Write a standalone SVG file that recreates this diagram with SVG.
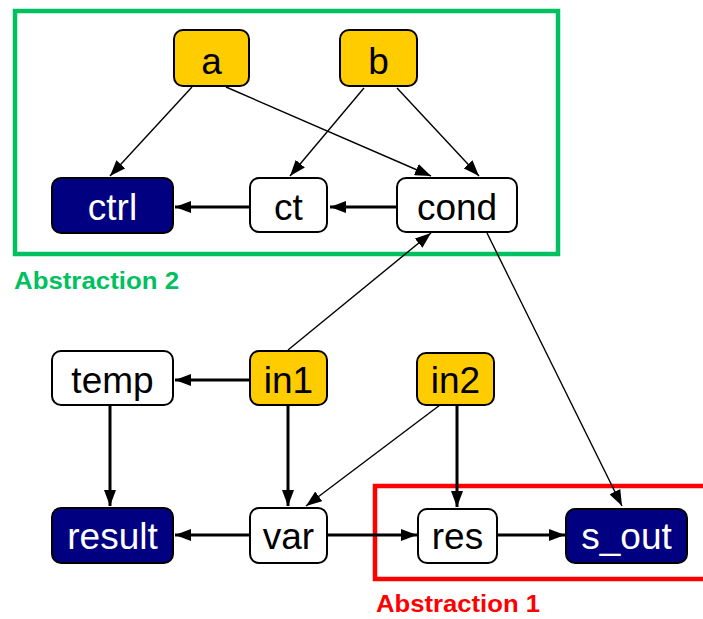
<svg xmlns="http://www.w3.org/2000/svg" width="703" height="619" viewBox="0 0 703 619">
<defs>
<marker id="ah" viewBox="0 0 16 12" refX="16" refY="6" markerWidth="16" markerHeight="12" markerUnits="userSpaceOnUse" orient="auto"><path d="M0,0 L16,6 L0,12 z" fill="#000"/></marker>
<style>
.n rect{stroke:#000;stroke-width:2}
.in rect{fill:#FFCC00}
.out rect{fill:#000080}
.mid rect{fill:#fff}
.n text{font-family:"Liberation Sans",Arial,sans-serif;font-size:37px;text-anchor:middle;dominant-baseline:central}
.out text{fill:#fff}
.mid text,.in text{fill:#000}
.thin{stroke:#000;stroke-width:1.4;fill:none;marker-end:url(#ah)}
.thick{stroke:#000;stroke-width:3;fill:none;marker-end:url(#ah)}
.lbl{font-family:"Liberation Sans",Arial,sans-serif;font-weight:bold;font-size:24px}
</style>
</defs>
<rect width="703" height="619" fill="#fff"/>
<g id="abstraction2">
<rect x="15" y="11" width="543" height="243" fill="none" stroke="#00C060" stroke-width="4.5"/>
<text class="lbl" x="14" y="289" fill="#00C060" textLength="165" lengthAdjust="spacingAndGlyphs">Abstraction 2</text>
</g>
<g id="abstraction1">
<rect x="375" y="486" width="340" height="93" fill="none" stroke="#FF0000" stroke-width="4.5"/>
<text class="lbl" x="376" y="612" fill="#FF0000" textLength="164" lengthAdjust="spacingAndGlyphs">Abstraction 1</text>
</g>
<g id="connectors">
<path class="thin" d="M192,87 L110,176"/>
<path class="thin" d="M226,87 L431,176"/>
<path class="thin" d="M364,88 L290,176"/>
<path class="thin" d="M397,88 L479,176"/>
<path class="thick" d="M396,207 L330,207"/>
<path class="thick" d="M249,207 L175,207"/>
<path class="thin" d="M288,350 L431,233"/>
<path class="thin" d="M487,233 L622,506"/>
<path class="thick" d="M249,380 L175,380"/>
<path class="thick" d="M110,405 L110,506"/>
<path class="thick" d="M288,405 L288,506"/>
<path class="thin" d="M440,405 L306,506"/>
<path class="thick" d="M457,405 L457,507"/>
<path class="thick" d="M249,535 L175,535"/>
<path class="thick" d="M327,535 L417,535"/>
<path class="thick" d="M497,535 L565,535"/>
</g>
<g id="a" class="n in"><rect x="174" y="30" width="75" height="56" rx="9"/><text x="211.5" y="61">a</text></g>
<g id="b" class="n in"><rect x="340" y="30" width="77" height="56" rx="9"/><text x="378.5" y="61">b</text></g>
<g id="ctrl" class="n out"><rect x="52" y="178" width="121" height="55" rx="9"/><text x="112.5" y="207">ctrl</text></g>
<g id="ct" class="n mid"><rect x="250" y="178" width="77" height="54" rx="9"/><text x="288.5" y="207">ct</text></g>
<g id="cond" class="n mid"><rect x="397" y="178" width="120" height="54" rx="9"/><text x="457" y="207">cond</text></g>
<g id="temp" class="n mid"><rect x="52" y="351" width="121" height="54" rx="9"/><text x="112.5" y="380">temp</text></g>
<g id="in1" class="n in"><rect x="250" y="351" width="77" height="54" rx="9"/><text x="288.5" y="380">in1</text></g>
<g id="in2" class="n in"><rect x="417" y="353" width="77" height="52" rx="9"/><text x="455.5" y="380">in2</text></g>
<g id="result" class="n out"><rect x="52" y="508" width="121" height="55" rx="9"/><text x="112.5" y="536">result</text></g>
<g id="var" class="n mid"><rect x="250" y="508" width="77" height="55" rx="9"/><text x="288.5" y="536">var</text></g>
<g id="res" class="n mid"><rect x="418" y="509" width="79" height="54" rx="9"/><text x="457.5" y="536">res</text></g>
<g id="s_out" class="n out"><rect x="566" y="509" width="121" height="54" rx="9"/><text x="626.5" y="536">s_out</text></g>
</svg>
